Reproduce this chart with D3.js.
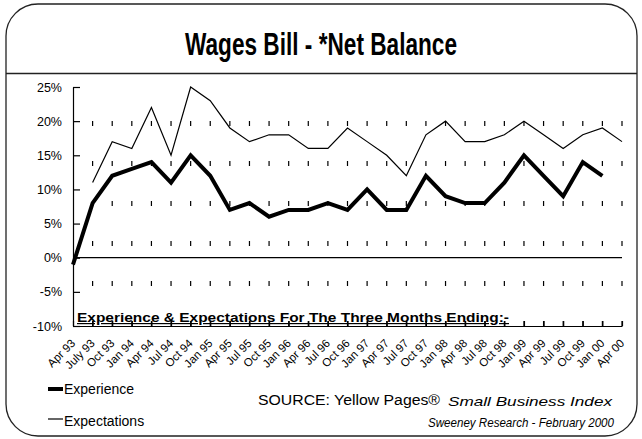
<!DOCTYPE html>
<html>
<head>
<meta charset="utf-8">
<script src="https://cdn.jsdelivr.net/npm/d3@7"></script>
<style>
  html, body { margin: 0; padding: 0; background: #fff; }
  svg { display: block; font-family: "Liberation Sans", Arial, sans-serif; }
</style>
</head>
<body>
<svg id="chart" width="642" height="439"></svg>
<script>
const categories = ["Apr 93","July 93","Oct 93","Jan 94","Apr 94","Jul 94","Oct 94","Jan 95","Apr 95","Jul 95","Oct 95","Jan 96","Apr 96","Jul 96","Oct 96","Jan 97","Apr 97","Jul 97","Oct 97","Jan 98","Apr 98","Jul 98","Oct 98","Jan 99","Apr 99","Jul 99","Oct 99","Jan 00","Apr 00"];
const experience = [-1,8,12,13,14,11,15,12,7,8,6,7,7,8,7,10,7,7,12,9,8,8,11,15,12,9,14,12,null];
const expectations = [null,11,17,16,22,15,25,23,19,17,18,18,16,16,19,17,15,12,18,20,17,17,18,20,18,16,18,19,17];
const yTicks = [-10,-5,0,5,10,15,20,25];

const svg = d3.select("#chart");

// frame
svg.append("rect").attr("x",6).attr("y",4).attr("width",631).attr("height",432)
  .attr("rx",32).attr("ry",32).attr("fill","none").attr("stroke","#222").attr("stroke-width",1.3);
svg.append("line").attr("x1",6).attr("x2",637).attr("y1",73.5).attr("y2",73.5)
  .attr("stroke","#222").attr("stroke-width",1.3);

svg.append("text").attr("x",321).attr("y",55).attr("text-anchor","middle")
  .attr("font-size",31).attr("font-weight","bold")
  .attr("textLength",272).attr("lengthAdjust","spacingAndGlyphs")
  .text("Wages Bill - *Net Balance");

const x = d3.scalePoint().domain(categories).range([73,622]);
const y = d3.scaleLinear().domain([-10,25]).range([326,87]);

// dashed vertical gridlines
svg.append("g").selectAll("line").data(categories.slice(1)).join("line")
  .attr("x1",d=>x(d)).attr("x2",d=>x(d)).attr("y1",y(-10)).attr("y2",y(25))
  .attr("stroke","#000").attr("stroke-width",1.2).attr("stroke-dasharray","5,35");

// zero line
svg.append("line").attr("x1",x(categories[0])).attr("x2",x(categories[categories.length-1]))
  .attr("y1",y(0)).attr("y2",y(0)).attr("stroke","#000").attr("stroke-width",1.2);

// y axis
const yAxis = svg.append("g").attr("transform",`translate(${x(categories[0])},0)`)
  .call(d3.axisLeft(y).tickValues(yTicks).tickFormat(d=>d+"%").tickSizeInner(-7).tickSizeOuter(0).tickPadding(11));
yAxis.selectAll("text").attr("font-size",12.5).attr("fill","#000").attr("font-family","Liberation Sans, Arial, sans-serif");
yAxis.selectAll("line,path").attr("stroke","#000").attr("stroke-width",1.2);

// x axis
const xAxis = svg.append("g").attr("transform",`translate(0,${y(-10)})`)
  .call(d3.axisBottom(x).tickSizeInner(-5).tickSizeOuter(0).tickFormat(""));
xAxis.selectAll("line,path").attr("stroke","#000").attr("stroke-width",1.2);

svg.append("g").selectAll("text").data(categories).join("text")
  .attr("transform",d=>`translate(${x(d)+3},344) rotate(-45)`)
  .attr("text-anchor","end").attr("font-size",11.5).text(d=>d);

// axis title
svg.append("text").attr("x",77).attr("y",322).attr("font-size",12).attr("font-weight","bold")
  .attr("text-decoration","underline").attr("textLength",432).attr("lengthAdjust","spacingAndGlyphs")
  .text("Experience & Expectations For The Three Months Ending:-");

// lines
const line = data => d3.line().defined((d,i)=>data[i]!==null)
  .x((d,i)=>x(categories[i])).y((d,i)=>y(data[i]))(data);
svg.append("path").attr("d",line(expectations)).attr("fill","none").attr("stroke","#000").attr("stroke-width",1.2);
svg.append("path").attr("d",line(experience)).attr("fill","none").attr("stroke","#000").attr("stroke-width",4).attr("stroke-linejoin","miter");

// legend
svg.append("line").attr("x1",48).attr("x2",63).attr("y1",389).attr("y2",389).attr("stroke","#000").attr("stroke-width",4);
svg.append("text").attr("x",64).attr("y",394).attr("font-size",14).text("Experience");
svg.append("line").attr("x1",48).attr("x2",63).attr("y1",419).attr("y2",419).attr("stroke","#000").attr("stroke-width",1.2);
svg.append("text").attr("x",64).attr("y",426).attr("font-size",14).text("Expectations");

// source
svg.append("text").attr("x",258).attr("y",405).attr("font-size",14)
  .attr("textLength",182).attr("lengthAdjust","spacingAndGlyphs").text("SOURCE: Yellow Pages®");
svg.append("text").attr("x",448).attr("y",406).attr("font-size",13).attr("font-style","italic")
  .attr("textLength",164).attr("lengthAdjust","spacingAndGlyphs").text("Small Business Index");
svg.append("text").attr("x",428).attr("y",427).attr("font-size",13).attr("font-style","italic")
  .attr("textLength",186).attr("lengthAdjust","spacingAndGlyphs").text("Sweeney Research - February 2000");
</script>
</body>
</html>
